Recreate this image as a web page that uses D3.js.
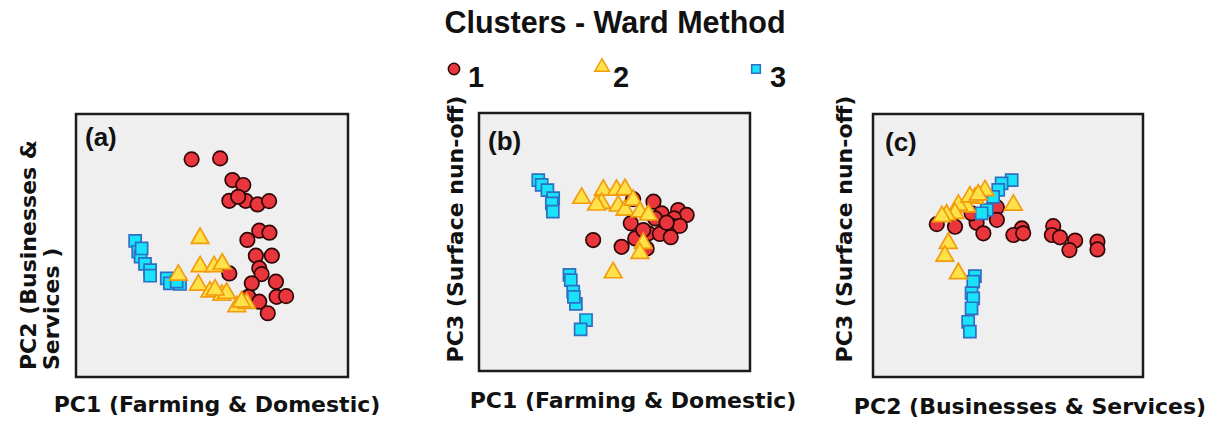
<!DOCTYPE html>
<html>
<head>
<meta charset="utf-8">
<script src="https://cdn.jsdelivr.net/npm/d3@7"></script>
<style>
  html, body { margin: 0; padding: 0; background: #fff; }
  svg { display: block; }
</style>
</head>
<body>
<svg id="chart" width="1218" height="421"></svg>
<script>
// ---------------- DATA ----------------
const clusterNames = ["1", "2", "3"];
const chartTitle = "Clusters - Ward Method";
const panelTags = ["(a)", "(b)", "(c)"];
const xTitles = ["PC1 (Farming & Domestic)", "PC1 (Farming & Domestic)", "PC2 (Businesses & Services)"];
const yTitles = [["PC2 (Businesses &", "Services )"], ["PC3 (Surface nun-off)"], ["PC3 (Surface nun-off)"]];

// Panel (a): PC1 vs PC2
const aCluster1 = [[-0.60,2.62],[0.24,2.65],[0.60,1.99],[0.92,1.84],[0.51,1.36],[0.99,1.36],[1.34,1.25],[1.68,1.35],[0.77,1.48],
  [1.39,0.45],[1.69,0.39],[1.04,0.17],[1.29,-0.31],[1.76,-0.31],[1.39,-0.69],[1.46,-0.87],[0.51,-0.85],[1.17,-1.15],[1.88,-1.10],
  [1.90,-1.56],[2.18,-1.54],[1.07,-1.56],[1.39,-1.71],[1.64,-2.06]];
const aCluster2 = [[-0.35,0.22],[-0.35,-0.64],[0.06,-0.64],[0.30,-0.56],[-0.99,-0.90],[-0.40,-1.20],[-0.06,-1.41],[0.29,-1.51],
  [0.43,-1.45],[0.73,-1.86],[1.02,-1.76],[0.87,-1.71],[0.09,-1.35]];
const aCluster3 = [[-2.26,0.14],[-2.17,-0.19],[-2.10,-0.34],[-1.97,-0.56],[-1.82,-0.75],[-1.82,-0.92],[-1.33,-1.00],[-1.24,-1.15],
  [-0.94,-1.17],[-1.04,-1.10],[-2.07,-0.09]];

// Panel (b): PC1 vs PC3
const bCluster1 = [[0.55,1.33],[1.15,1.25],[1.39,0.89],[1.88,0.99],[2.13,0.84],[1.76,0.73],[1.69,0.50],[1.93,0.50],[0.48,0.58],
  [-0.63,0.06],[0.21,-0.15],[0.61,0.11],[1.00,0.27],[1.34,0.25],[1.66,0.15],[0.95,-0.20],[1.20,0.73],[1.54,0.60],[0.85,0.37]];
const bCluster2 = [[-0.97,1.36],[-0.33,1.61],[0.06,1.61],[0.31,1.63],[-0.38,1.20],[0.11,1.12],[0.31,0.99],[0.55,1.30],[0.75,0.94],
  [1.00,0.84],[0.85,-0.04],[0.75,-0.35],[-0.04,-0.95],[-0.53,1.15]];
const bCluster3 = [[-2.25,1.92],[-2.15,1.77],[-1.98,1.61],[-1.81,1.36],[-1.85,1.20],[-1.82,0.94],[-1.33,-1.02],[-1.29,-1.18],
  [-1.22,-1.54],[-1.14,-1.92],[-0.84,-2.42],[-1.00,-2.71],[-1.20,-1.70]];

// Panel (c): PC2 vs PC3
const cCluster1 = [[-2.11,0.65],[-1.57,0.57],[-0.93,0.69],[-0.73,0.37],[-0.33,1.16],[-0.33,0.78],[0.41,0.52],[0.16,0.32],[0.45,0.37],
  [1.34,0.59],[1.30,0.32],[1.54,0.25],[1.99,0.15],[1.82,-0.14],[2.65,0.12],[2.65,-0.12],[-1.08,0.98]];
const cCluster2 = [[-0.68,1.67],[-0.98,1.44],[-1.22,1.18],[-1.47,1.23],[-1.57,0.98],[-1.82,0.93],[-1.96,0.88],[0.16,1.23],
  [-1.77,0.07],[-1.87,-0.32],[-1.47,-0.85],[-1.13,1.48],[-0.88,1.54]];
const cCluster3 = [[0.11,1.99],[-0.19,1.89],[-0.29,1.69],[-0.44,1.48],[-0.63,1.08],[-0.78,0.98],[-0.98,-0.93],[-1.03,-1.10],
  [-1.08,-1.45],[-1.03,-1.61],[-1.08,-1.91],[-1.18,-2.32],[-1.13,-2.62]];

const scoreDomain = [-4, 4];

// ---------------- LAYOUT / STYLE ----------------
const panels = [
  { box: [76, 114, 348, 377], tag: [85, 146], xLab: [217, 412], yLab: { x: [36, 59], y: 370, anchor: "start" },
    data: [aCluster1, aCluster2, aCluster3] },
  { box: [479, 113, 750, 371], tag: [488, 150], xLab: [633, 408], yLab: { x: [463], y: 229, anchor: "middle" },
    data: [bCluster1, bCluster2, bCluster3] },
  { box: [873, 114, 1143, 377], tag: [885, 151], xLab: [1030, 414], yLab: { x: [852], y: 229, anchor: "middle" },
    data: [cCluster1, cCluster2, cCluster3] }
];

const styles = [
  { shape: d3.symbolCircle, size: 165, fill: "#e8363c", stroke: "#2e0606" },
  { shape: d3.symbolTriangle, size: 135, fill: "#ffe24a", stroke: "#f29b0c" },
  { shape: d3.symbolSquare, size: 145, fill: "#19e3f8", stroke: "#2c6fc4" }
];
const drawOrder = [0, 2, 1];

const svg = d3.select("#chart");
const arial = "'Liberation Sans', Arial, sans-serif";
const verd = "'DejaVu Sans', Verdana, sans-serif";

// Title
svg.append("text").attr("x", 615).attr("y", 33).attr("text-anchor", "middle")
  .attr("font-family", arial).attr("font-weight", "bold").attr("font-size", 30.5)
  .attr("fill", "#111").text(chartTitle);

// Legend
const legendX = [454, 602, 756];
const legendTextX = [468, 613, 770];
clusterNames.forEach((name, i) => {
  const st = styles[i];
  const legSize = [100, 90, 75][i];
  svg.append("path")
    .attr("d", d3.symbol().type(st.shape).size(legSize)())
    .attr("transform", `translate(${legendX[i]},${i === 1 ? 67 : 69})`)
    .attr("fill", st.fill).attr("stroke", st.stroke).attr("stroke-width", 1.5);
  svg.append("text").attr("x", legendTextX[i]).attr("y", 87)
    .attr("font-family", arial).attr("font-weight", "bold").attr("font-size", 29)
    .attr("fill", "#111").text(name);
});

panels.forEach((p, pi) => {
  const [x0, y0, x1, y1] = p.box;
  const g = svg.append("g");
  const x = d3.scaleLinear().domain(scoreDomain).range([x0, x1]);
  const y = d3.scaleLinear().domain(scoreDomain).range([y1, y0]);

  g.append("rect").attr("x", x0).attr("y", y0).attr("width", x1 - x0).attr("height", y1 - y0)
    .attr("fill", "#efefef").attr("stroke", "#1c1c1c").attr("stroke-width", 2.5);

  g.append("text").attr("x", p.tag[0]).attr("y", p.tag[1])
    .attr("font-family", arial).attr("font-weight", "bold").attr("font-size", 26)
    .attr("fill", "#111").text(panelTags[pi]);

  drawOrder.forEach(ci => {
    const st = styles[ci];
    g.selectAll(null).data(p.data[ci]).enter().append("path")
      .attr("d", d3.symbol().type(st.shape).size(st.size)())
      .attr("transform", d => `translate(${x(d[0])},${y(d[1])})`)
      .attr("fill", st.fill).attr("stroke", st.stroke).attr("stroke-width", 1.7);
  });

  // x title
  svg.append("text").attr("x", p.xLab[0]).attr("y", p.xLab[1]).attr("text-anchor", "middle")
    .attr("font-family", verd).attr("font-weight", "bold").attr("font-size", 22)
    .attr("fill", "#111").text(xTitles[pi]);

  // y title (rotated)
  yTitles[pi].forEach((line, li) => {
    const bx = p.yLab.x[li];
    svg.append("text")
      .attr("transform", `translate(${bx},${p.yLab.y}) rotate(-90)`)
      .attr("text-anchor", p.yLab.anchor)
      .attr("font-family", verd).attr("font-weight", "bold").attr("font-size", 22)
      .attr("fill", "#111").text(line);
  });
});
</script>
</body>
</html>
